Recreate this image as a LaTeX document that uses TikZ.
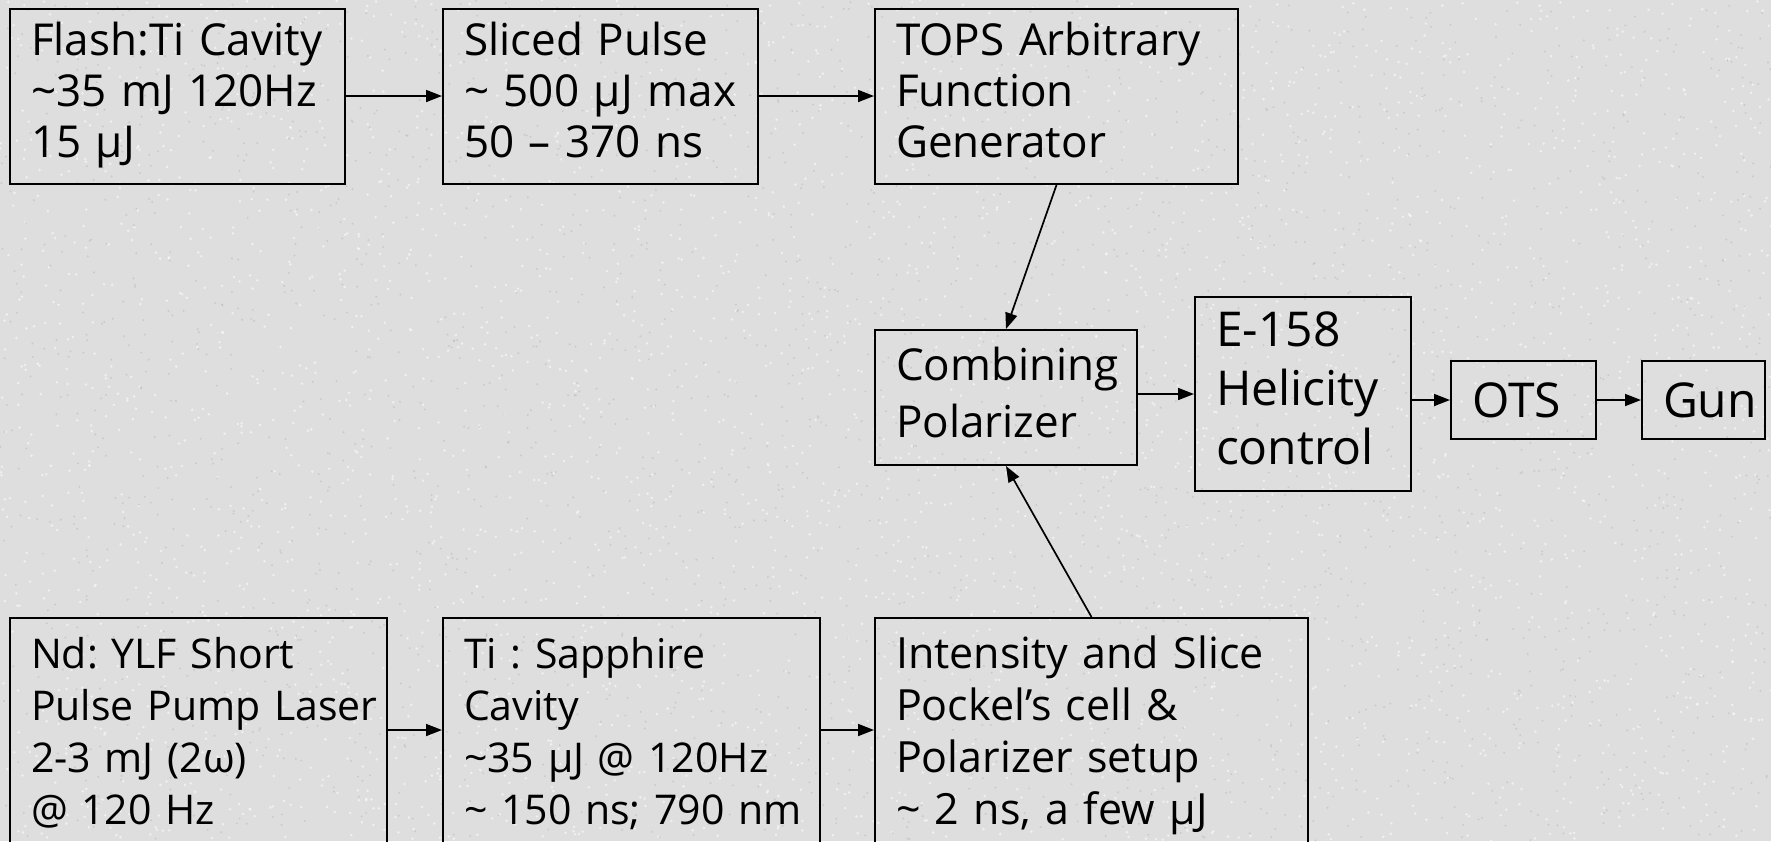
\documentclass[tikz,border=0pt]{standalone}
\usepackage{fontspec}
\setmainfont{Open Sans}
\usetikzlibrary{arrows.meta}
\definecolor{bg}{HTML}{DEDEDE}
\frenchspacing
\begin{document}
\begin{tikzpicture}[x=1pt,y=-1pt,
  box/.style={draw, line width=2pt, anchor=north west, inner xsep=21pt, inner ysep=0pt,
    align=left, font=\fontsize{44}{51}\selectfont},
  conn/.style={line width=1.7pt, -{Triangle[length=16pt,width=12pt]}}]
\useasboundingbox (0,0) rectangle (1771,841);
\clip (0,0) rectangle (1771,841);
\fill[bg] (0,0) rectangle (1771,841);
\pgfmathsetseed{42}
\foreach \i in {1,...,3500}{\fill[white,opacity=0.55] ({rnd*1771},{rnd*841}) circle[radius=1.4pt];}
\foreach \i in {1,...,2500}{\fill[gray!70,opacity=0.35] ({rnd*1771},{rnd*841}) circle[radius=1.1pt];}

% top row
\node[box, minimum width=335pt, minimum height=175pt, text width=293pt] (flash) at (9,8)
  {\raisebox{-3pt}{\begin{tabular}{@{}l@{}}Flash:Ti Cavity\\ \textasciitilde35 mJ 120Hz\\ 15 μJ\end{tabular}}};
\node[box, minimum width=315pt, minimum height=175pt, text width=273pt] (sliced) at (442,8)
  {\raisebox{-3pt}{\begin{tabular}{@{}l@{}}Sliced Pulse\\ \textasciitilde{} 500 μJ max\\ 50 – 370 ns\end{tabular}}};
\node[box, minimum width=363pt, minimum height=175pt, text width=321pt] (tops) at (874,8)
  {\raisebox{-3pt}{\begin{tabular}{@{}l@{}}TOPS Arbitrary\\ Function\\ Generator\end{tabular}}};

% middle row
\node[box, minimum width=262pt, minimum height=135pt, text width=220pt,
  font=\fontsize{44}{57}\selectfont] (comb) at (874,329)
  {\begin{tabular}{@{}l@{}}Combining\\ Polarizer\end{tabular}};
\node[box, minimum width=216pt, minimum height=194pt, text width=174pt,
  font=\fontsize{48}{59}\selectfont] (e158) at (1194,296)
  {\begin{tabular}{@{}l@{}}E-158\\ Helicity\\ control\end{tabular}};
\node[box, minimum width=145pt, minimum height=78pt, text width=103pt,
  font=\fontsize{48}{59}\selectfont] (ots) at (1450,360) {OTS};
\node[box, minimum width=123pt, minimum height=78pt, text width=81pt,
  font=\fontsize{48}{59}\selectfont] (gun) at (1641,360) {Gun};

% bottom row
\node[box, minimum width=377pt, minimum height=236pt, text width=335pt,
  font=\fontsize{41}{52}\selectfont] (nd) at (9,617)
  {\begin{tabular}{@{}l@{}}Nd: YLF Short\\ Pulse Pump Laser\\ 2-3 mJ (2ω)\\ @ 120 Hz\end{tabular}};
\node[box, minimum width=377pt, minimum height=236pt, text width=335pt,
  font=\fontsize{41}{52}\selectfont] (ti) at (442,617)
  {\begin{tabular}{@{}l@{}}Ti : Sapphire\\ Cavity\\ \textasciitilde35 μJ @ 120Hz\\ \textasciitilde{} 150 ns; 790 nm\end{tabular}};
\node[box, minimum width=433pt, minimum height=236pt, text width=391pt,
  font=\fontsize{43}{52}\selectfont] (int) at (874,617)
  {\begin{tabular}{@{}l@{}}Intensity and Slice\\ Pockel’s cell \&\\ Polarizer setup\\ \textasciitilde{} 2 ns, a few μJ\end{tabular}};

% connectors
\draw[conn] (flash.east |- 0,96) -- (sliced.west |- 0,96);
\draw[conn] (sliced.east |- 0,96) -- (tops.west |- 0,96);
\draw[conn] (tops.south) -- (comb.north);
\draw[conn] (int.north) -- (comb.south);
\draw[conn] (comb.east |- 0,394) -- (e158.west |- 0,394);
\draw[conn] (ots.west -| e158.east) -- (ots.west);
\draw[conn] (ots.east) -- (gun.west);
\draw[conn] (nd.east |- 0,730) -- (ti.west |- 0,730);
\draw[conn] (ti.east |- 0,730) -- (int.west |- 0,730);
\end{tikzpicture}
\end{document}
